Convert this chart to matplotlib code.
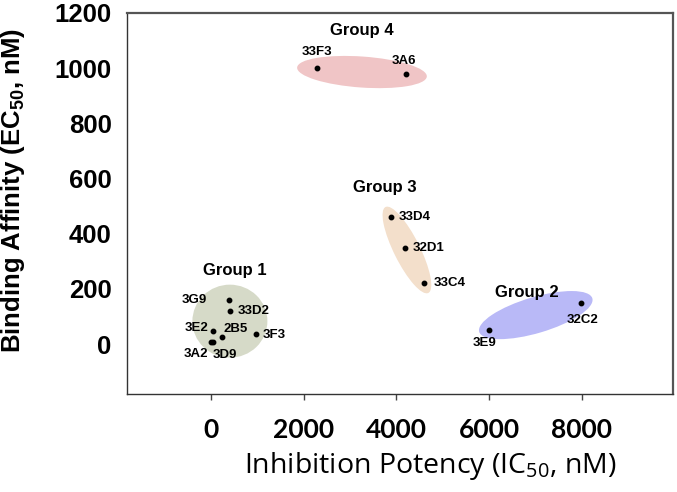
import numpy as np
import matplotlib.pyplot as plt
from matplotlib.patches import Ellipse
from matplotlib.transforms import ScaledTranslation

plt.rcParams['mathtext.default'] = 'regular'

# antibody clones: IC50 (nM) vs EC50 (nM)
names = ['3G9', '33D2', '3E2', '2B5', '3F3', '3A2', '3D9',
         '3E9', '32C2',
         '33D4', '32D1', '33C4',
         '33F3', '3A6']
ic50 = [390, 410, 40, 240, 970, 0, 50,
        6000, 7980,
        3880, 4190, 4600,
        2280, 4200]
ec50 = [160, 120, 48, 24, 36, 6, 9,
        51, 150,
        460, 347, 220,
        1000, 978]

groups = ['Group 1', 'Group 2', 'Group 3', 'Group 4']
group_x = [410, 7010, 4230, 3260]      # ellipse centres
group_y = [83, 105, 341, 986]
group_colors = ['#d6dac8', '#b9b9f7', '#f3dfcb', '#f0c5c6']

# label offsets in pixels (dx, dy, ha)
label_off = [(-22, 0, 'right'), (8, 0, 'left'), (-4, 3, 'right'), (1, 8, 'left'),
             (7, -1, 'left'), (-3, -12, 'right'), (-1, -13, 'left'),
             (-4, -13, 'center'), (2, -17, 'center'),
             (8, 0, 'left'), (8, 0, 'left'), (10, 0, 'left'),
             (0, 16, 'center'), (-2, 13, 'center')]
# ellipse size in pixels: width, height, angle
ell_shape = [(75, 73, 0), (118, 36, 16.5), (96, 26, -63.5), (130, 31, -4)]
# group title position in data
title_pos = [(520, 268), (6820, 188), (3750, 569), (3260, 1138)]

fig = plt.figure(figsize=(6.77, 4.92), dpi=100)
ax = fig.add_axes([0.1876, 0.1992, 0.8064, 0.7744])
ax.set_xlim(-1810, 9970)
ax.set_ylim(-181, 1200)

for i in range(len(groups)):
    w, h, ang = ell_shape[i]
    tr = fig.dpi_scale_trans + ScaledTranslation(group_x[i], group_y[i], ax.transData)
    e = Ellipse((0, 0), w / 100., h / 100., angle=ang, transform=tr,
                facecolor=group_colors[i], edgecolor='none', zorder=1)
    ax.add_patch(e)
    ax.text(title_pos[i][0], title_pos[i][1], groups[i], ha='center', va='center',
            fontsize=12, fontweight='bold', family='Liberation Sans')

ax.plot(ic50, ec50, 'o', color='black', markersize=3.2, zorder=3)
for i in range(len(names)):
    dx, dy, ha = label_off[i]
    ax.annotate(names[i], (ic50[i], ec50[i]), xytext=(dx, dy), textcoords='offset pixels',
                ha=ha, va='center', fontsize=9.5, fontweight='bold', family='Liberation Sans')

ax.set_xticks([0, 2000, 4000, 6000, 8000])
ax.set_yticks([0, 200, 400, 600, 800, 1000, 1200])
ax.tick_params(axis='x', direction='out', length=4, width=1, pad=13, color='#444444')
ax.tick_params(axis='y', length=0, pad=11)
for lab in ax.get_xticklabels():
    lab.set_family('Lato')
    lab.set_fontweight('bold')
    lab.set_fontsize(19)
for lab in ax.get_yticklabels():
    lab.set_family('Liberation Sans')
    lab.set_fontweight('bold')
    lab.set_fontsize(18.5)

for side in ['left', 'bottom']:
    ax.spines[side].set_color('#333333')
    ax.spines[side].set_linewidth(1.0)
for side in ['top', 'right']:
    ax.spines[side].set_color('#555555')
    ax.spines[side].set_linewidth(1.6)

ax.set_xlabel('Inhibition Potency (IC$_{50}$, nM)', family='Open Sans', fontsize=20.5)
ax.set_ylabel('Binding Affinity (EC$_{50}$, nM)', family='Liberation Sans', fontweight='bold',
              fontsize=18.5)
ax.xaxis.set_label_coords(0.555, -0.148)
ax.yaxis.set_label_coords(-0.183, 0.535)

fig.savefig('out.png', dpi=100)
